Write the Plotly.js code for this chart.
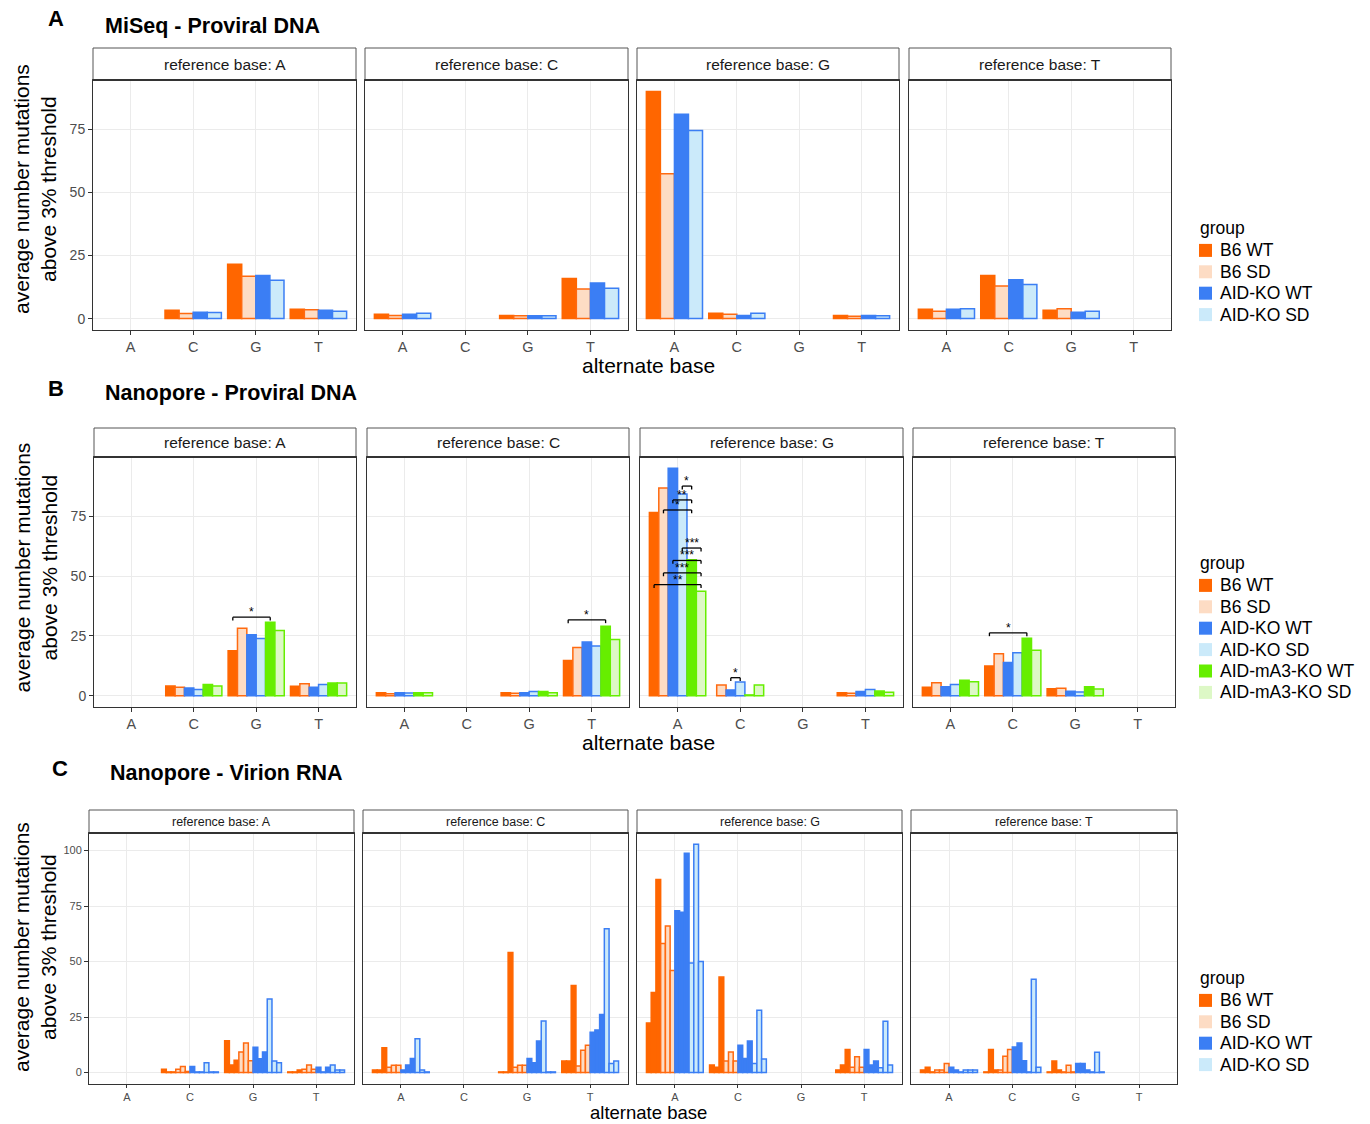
<!DOCTYPE html>
<html><head><meta charset="utf-8">
<script src="https://cdn.plot.ly/plotly-3.0.1.min.js"></script>
<style>body{margin:0;background:#fff}</style>
</head><body><div id="chart" style="width:1370px;height:1124px"></div>
<script>
// ---------------- DATA ----------------
var altBases = ['A','C','G','T'];
var refBases = ['A','C','G','T'];
var groupsDNA = ['B6 WT','B6 SD','AID-KO WT','AID-KO SD'];
var groupsNano = ['B6 WT','B6 SD','AID-KO WT','AID-KO SD','AID-mA3-KO WT','AID-mA3-KO SD'];

// A: MiSeq - Proviral DNA (rows = group, cols = alternate base A,C,G,T)
var miseqRefA = [[null,3.3,21.5,3.7],[null,2.0,16.8,3.5],[null,2.5,17.1,3.3],[null,2.4,15.2,2.9]];
var miseqRefC = [[1.7,null,1.2,15.9],[1.2,null,1.1,11.7],[1.7,null,1.1,14.1],[2.1,null,1.1,12.0]];
var miseqRefG = [[89.9,2.1,null,1.2],[57.3,1.7,null,0.9],[80.9,1.2,null,1.2],[74.4,2.1,null,1.1]];
var miseqRefT = [[3.7,17.1,3.3,null],[2.9,12.9,3.9,null],[3.7,15.4,2.5,null],[3.9,13.5,2.9,null]];

// B: Nanopore - Proviral DNA (rows = group, cols = alternate base)
var nanoRefA = [[null,4.0,18.75,3.9],[null,3.5,28.2,5.0],[null,3.2,25.4,3.5],[null,2.6,23.9,4.7],[null,4.7,30.7,5.3],[null,4.0,27.2,5.3]];
var nanoRefC = [[1.25,null,1.25,14.7],[0.8,null,1.0,20.1],[1.25,null,1.25,22.4],[1.1,null,1.7,20.7],[1.25,null,1.7,29.0],[1.25,null,1.25,23.5]];
var nanoRefG = [[76.5,null,null,1.25],[86.8,4.4,null,1.0],[95.0,2.4,null,1.7],[84.3,5.7,null,2.6],[56.8,0.3,null,1.9],[43.6,4.4,null,1.4]];
var nanoRefT = [[3.5,12.4,2.9,null],[5.4,17.5,3.1,null],[3.75,13.9,1.8,null],[4.7,17.9,1.5,null],[6.4,24.0,3.75,null],[5.8,19.0,2.8,null]];

// significance brackets: [alternate base, group 1, group 2, bracket height, label]
var sigNanoRefA = [['G','B6 WT','AID-mA3-KO WT',32.8,'*']];
var sigNanoRefC = [['T','B6 WT','AID-mA3-KO WT',31.7,'*']];
var sigNanoRefG = [
  ['A','AID-KO SD','AID-mA3-KO WT',87.6,'*'],
  ['A','AID-KO WT','AID-mA3-KO WT',81.8,'**'],
  ['A','B6 SD','AID-mA3-KO WT',77.6,'*'],
  ['A','AID-KO SD','AID-mA3-KO SD',61.7,'***'],
  ['A','AID-KO WT','AID-mA3-KO SD',56.5,'***'],
  ['A','B6 SD','AID-mA3-KO SD',51.3,'***'],
  ['A','B6 WT','AID-mA3-KO SD',46.4,'**'],
  ['C','AID-KO WT','AID-KO SD',7.5,'*']
];
var sigNanoRefT = [['C','B6 WT','AID-mA3-KO WT',26.25,'*']];

// C: Nanopore - Virion RNA (rows = group, cols = alternate base, 3 replicate samples each)
var virionRefA = [
  [null,[1.5,0.3,0.3],[14.3,3.4,5.6],[0.3,0.3,1.2]],
  [null,[1.5,2.7,0.5],[9.3,13.3,5.3],[1.5,3.4,1.5]],
  [null,[2.7,0.3,0.3],[11.4,6.2,9.3],[2.4,0.3,2.4]],
  [null,[4.4,0.3,0.3],[33.1,5.2,4.4],[3.4,1.2,1.2]]
];
var virionRefC = [
  [[1.2,1.2,11.2],null,[0.3,0.3,54.1],[5.2,5.2,39.2]],
  [[2.4,3.3,3.3],null,[2.4,3.3,3.3],[3.0,10.1,12.3]],
  [[1.2,3.4,6.4],null,[6.4,4.4,14.2],[18.2,19.2,26.2]],
  [[15.2,1.2,0.3],null,[23.2,0.3,0.3],[64.8,4.1,5.2]]
];
var virionRefG = [
  [[22.3,36.1,87.0],[3.4,2.4,43.0],null,[1.2,3.4,10.4]],
  [[58.1,66.0,46.0],[5.2,9.3,5.2],null,[2.4,7.1,2.4]],
  [[72.9,72.2,98.8],[12.3,6.4,14.2],null,[10.4,3.4,5.2]],
  [[49.3,102.8,50.0],[4.1,28.1,6.1],null,[2.2,23.1,3.4]]
];
var virionRefT = [
  [[1.2,2.4,0.3],[0.3,10.4,1.2],[0.3,5.2,1.2],null],
  [[1.2,1.2,4.1],[1.2,7.4,10.4],[0.3,3.3,0.3],null],
  [[2.4,1.2,0.3],[11.5,13.3,5.3],[4.1,4.1,1.2],null],
  [[1.2,1.2,1.2],[0.3,42.0,2.4],[0.3,9.2,0.3],null]
];

var rowTitles = ['MiSeq - Proviral DNA','Nanopore - Proviral DNA','Nanopore - Virion RNA'];
var rowLetters = ['A','B','C'];
var legendTitle = 'group';
var xTitle = 'alternate base';
var yTitle = 'average number mutations<br>above 3% threshold';

// ---------------- STYLE ----------------
var fillCol = {'B6 WT':'#FF6600','B6 SD':'#FDDCC4','AID-KO WT':'#3B7EF4','AID-KO SD':'#CBEAFA','AID-mA3-KO WT':'#66EE00','AID-mA3-KO SD':'#DDF8C6'};
var lineCol = {'B6 WT':'#FF6600','B6 SD':'#FF6A10','AID-KO WT':'#3B7EF4','AID-KO SD':'#3B7EF4','AID-mA3-KO WT':'#66EE00','AID-mA3-KO SD':'#66EE00'};
var W = 1370, H = 1124;
var font = 'Liberation Sans, Arial, sans-serif';
var rowsCfg = [
  {px:[[93,356],[365,628],[637,899],[909,1171]], strip:48, top:80, bot:330, yr:[-4.5,94.4], yt:[0,25,50,75], sf:15.5, tf:14.5, ytf:14, tl:4, legY:228, titleY:26, letterY:18, letterX:56, titleX:103, xtY:365, xtF:21, xtA:'middle'},
  {px:[[94,356],[367,629],[640,903],[913,1175]], strip:428, top:457, bot:707, yr:[-4.75,99.75], yt:[0,25,50,75], sf:15.5, tf:14.5, ytf:14, tl:4, legY:563, titleY:393, letterY:388, letterX:56, titleX:103, xtY:742, xtF:21, xtA:'middle'},
  {px:[[89,354],[363,628],[637,902],[911,1177]], strip:810, top:833, bot:1084, yr:[-5.14,107.9], yt:[0,25,50,75,100], sf:12.5, tf:11, ytf:11, tl:3, legY:978, titleY:773, letterY:768, letterX:60, titleX:108, xtY:1124, xtF:18.5, xtA:'bottom'}
];
var legStep = 21.4;

function px2x(p){ return p / W; }
function px2y(p){ return 1 - p / H; }

function dnaSlots(groups, table){
  return groups.map(function(g,i){ return {group:g, vals: table[i]}; });
}
function virionSlots(groups, table){
  var s = [];
  groups.forEach(function(g,i){
    for (var r=0;r<3;r++){
      s.push({group:g, vals: table[i].map(function(a){ return a ? a[r] : null; })});
    }
  });
  return s;
}
function dodge(slots){
  var n = slots.length, w = 0.9 / n;
  var offs = slots.map(function(){ return [0,0,0,0]; });
  for (var a=0;a<4;a++){
    var pres = [];
    slots.forEach(function(s,i){ if (s.vals[a] != null) pres.push(i); });
    var start = -pres.length * w / 2;
    pres.forEach(function(i,k){ offs[i][a] = start + k*w; });
  }
  return {w:w, offs:offs};
}

var rowData = [
  [miseqRefA, miseqRefC, miseqRefG, miseqRefT].map(function(t){ return dnaSlots(groupsDNA, t); }),
  [nanoRefA, nanoRefC, nanoRefG, nanoRefT].map(function(t){ return dnaSlots(groupsNano, t); }),
  [virionRefA, virionRefC, virionRefG, virionRefT].map(function(t){ return virionSlots(groupsDNA, t); })
];
var rowSig = [[[],[],[],[]],[sigNanoRefA, sigNanoRefC, sigNanoRefG, sigNanoRefT],[[],[],[],[]]];
var rowGroups = [groupsDNA, groupsNano, groupsDNA];

var traces = [], layout = {
  width:W, height:H, margin:{l:0,r:0,t:0,b:0}, autosize:false, showlegend:false,
  paper_bgcolor:'#fff', plot_bgcolor:'#fff', barmode:'overlay', hovermode:false,
  font:{family:font, color:'#000'},
  annotations:[], shapes:[]
};

function txt(x, y, text, size, opts){
  var a = {xref:'paper', yref:'paper', x:px2x(x), y:px2y(y), text:text, showarrow:false,
    xanchor:'center', yanchor:'middle', font:{size:size, color:'#000', family:font}};
  for (var k in (opts||{})) a[k] = opts[k];
  layout.annotations.push(a);
}

rowsCfg.forEach(function(cfg, row){
  for (var c=0;c<4;c++){
    var k = row*4 + c + 1;
    var xid = 'x' + (k===1?'':k), yid = 'y' + (k===1?'':k);
    var xa = 'xaxis' + (k===1?'':k), ya = 'yaxis' + (k===1?'':k);
    layout[xa] = {
      domain:[px2x(cfg.px[c][0]), px2x(cfg.px[c][1])], anchor:yid, type:'category',
      categoryorder:'array', categoryarray:altBases, range:[-0.6,3.6],
      showgrid:true, gridcolor:'#EBEBEB', gridwidth:1, zeroline:false,
      ticks:'outside', ticklen:cfg.tl, tickcolor:'#333', tickwidth:1,
      tickfont:{size:cfg.tf, color:'#4D4D4D', family:font},
      showline:true, mirror:true, linecolor:'#333', linewidth:1, fixedrange:true
    };
    layout[ya] = {
      domain:[px2y(cfg.bot), px2y(cfg.top)], anchor:xid, range:cfg.yr,
      tickmode:'array', tickvals:cfg.yt, showgrid:true, gridcolor:'#EBEBEB', gridwidth:1, zeroline:false,
      ticks: c===0 ? 'outside' : '', ticklen:4, tickcolor:'#333', showticklabels: c===0,
      tickfont:{size:cfg.ytf, color:'#4D4D4D', family:font},
      showline:true, mirror:true, linecolor:'#333', linewidth:1, fixedrange:true
    };
    var slots = rowData[row][c];
    var dg = dodge(slots);
    slots.forEach(function(s,i){
      traces.push({
        type:'bar', x:altBases, y:s.vals, offset:dg.offs[i], width:dg.w,
        xaxis:xid, yaxis:yid, showlegend:false, name:s.group,
        marker:{color:fillCol[s.group], line:{color:lineCol[s.group], width:1.5}}
      });
    });
    // significance brackets
    var gl = rowGroups[row];
    rowSig[row][c].forEach(function(b){
      var a = altBases.indexOf(b[0]);
      var i1 = gl.indexOf(b[1]), i2 = gl.indexOf(b[2]);
      var x1 = a + dg.offs[i1][a] + dg.w/2, x2 = a + dg.offs[i2][a] + dg.w/2;
      var ln = {color:'#000', width:1.3};
      layout.shapes.push({type:'line', xref:xid, yref:yid, x0:x1, x1:x2, y0:b[3], y1:b[3], line:ln});
      layout.shapes.push({type:'line', xref:xid, yref:yid, x0:x1, x1:x1, y0:b[3], y1:b[3]-1.4, line:ln});
      layout.shapes.push({type:'line', xref:xid, yref:yid, x0:x2, x1:x2, y0:b[3], y1:b[3]-1.4, line:ln});
      layout.annotations.push({xref:xid, yref:yid, x:(x1+x2)/2, y:b[3], text:b[4], showarrow:false,
        yanchor:'bottom', yshift:-4, font:{size:12, color:'#000', family:font}});
    });
    // strip
    layout.shapes.push({type:'rect', xref:'paper', yref:'paper', x0:px2x(cfg.px[c][0]), x1:px2x(cfg.px[c][1]),
      y0:px2y(cfg.top), y1:px2y(cfg.strip), fillcolor:'#fff', line:{color:'#555', width:1}});
    layout.shapes.push({type:'line', xref:'paper', yref:'paper', x0:px2x(cfg.px[c][0]), x1:px2x(cfg.px[c][1]),
      y0:px2y(cfg.top), y1:px2y(cfg.top), line:{color:'#333', width:2}});
    txt((cfg.px[c][0]+cfg.px[c][1])/2, (cfg.strip+cfg.top)/2, 'reference base: ' + refBases[c], cfg.sf, {font:{size:cfg.sf, color:'#1A1A1A', family:font}});
  }
  // legend (drawn as swatches + text)
  txt(1198, cfg.legY, legendTitle, 17.5, {xanchor:'left'});
  rowGroups[row].forEach(function(g, i){
    var yc = cfg.legY + legStep*(i+1) + 1;
    layout.shapes.push({type:'rect', xref:'paper', yref:'paper', x0:px2x(1199), x1:px2x(1212),
      y0:px2y(yc+6.5), y1:px2y(yc-6.5), fillcolor:fillCol[g], line:{width:0}});
    txt(1218, yc, g, 17.5, {xanchor:'left'});
  });
  // titles
  txt(cfg.letterX, cfg.letterY, '<b>'+rowLetters[row]+'</b>', 22);
  txt(cfg.titleX, cfg.titleY, '<b>'+rowTitles[row]+'</b>', 21.5, {xanchor:'left'});
  txt(648, cfg.xtY, xTitle, cfg.xtF, {borderpad:0, yanchor:cfg.xtA});
  txt(35, (cfg.strip+cfg.bot)/2, yTitle, 21, {textangle:-90});
});

Plotly.newPlot('chart', traces, layout, {staticPlot:true, displayModeBar:false});
</script></body></html>
